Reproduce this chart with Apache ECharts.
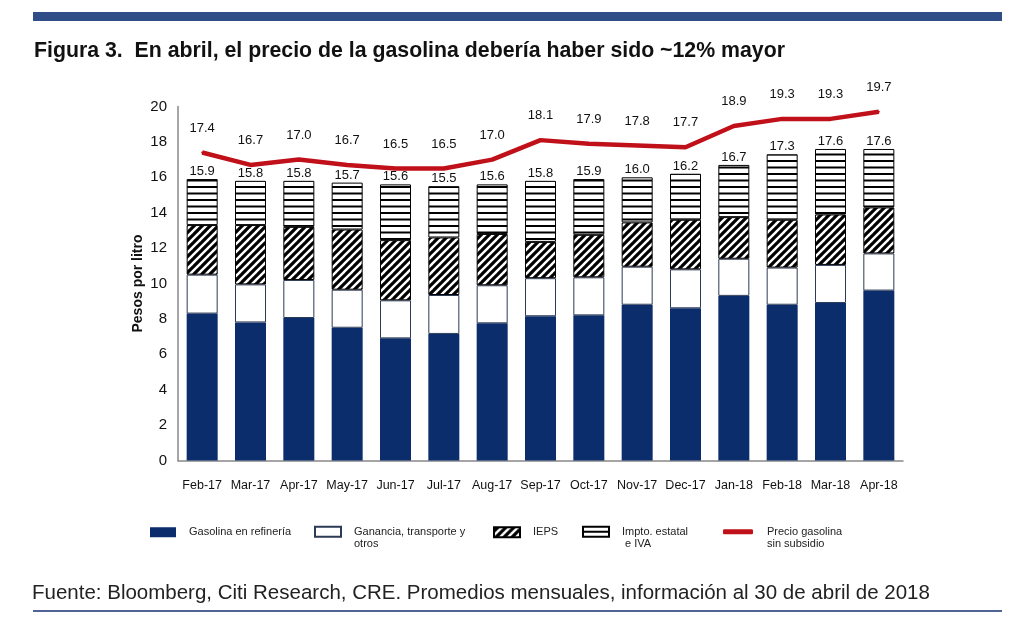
<!DOCTYPE html>
<html><head><meta charset="utf-8">
<script src="https://cdn.jsdelivr.net/npm/echarts@6/dist/echarts.min.js"></script>
<style>html,body{margin:0;padding:0;background:#fff}#c{width:1024px;height:632px}</style>
</head><body><div id="c"></div>
<script>
var categories = ['Feb-17','Mar-17','Apr-17','May-17','Jun-17','Jul-17','Aug-17','Sep-17','Oct-17','Nov-17','Dec-17','Jan-18','Feb-18','Mar-18','Apr-18'];
var gasolinaRefineria = [8.3, 7.8, 8.05, 7.5, 6.9, 7.15, 7.75, 8.15, 8.2, 8.8, 8.6, 9.3, 8.8, 8.9, 9.6];
var ganancia = [2.2, 2.15, 2.15, 2.15, 2.15, 2.2, 2.15, 2.15, 2.15, 2.15, 2.2, 2.1, 2.1, 2.15, 2.1];
var ieps = [2.8, 3.35, 3.0, 3.4, 3.4, 3.25, 2.9, 2.05, 2.4, 2.5, 2.8, 2.35, 2.7, 2.85, 2.6];
var imptoIVA = [2.6, 2.5, 2.6, 2.65, 3.15, 2.9, 2.8, 3.45, 3.15, 2.55, 2.6, 2.95, 3.7, 3.7, 3.3];
var totalLabels = ['15.9','15.8','15.8','15.7','15.6','15.5','15.6','15.8','15.9','16.0','16.2','16.7','17.3','17.6','17.6'];
var precioSinSubsidio = [17.4, 16.7, 17.0, 16.7, 16.5, 16.5, 17.0, 18.1, 17.9, 17.8, 17.7, 18.9, 19.3, 19.3, 19.7];

var SANS = "'Liberation Sans', Arial, sans-serif";

function stripeTile() {
  var c = document.createElement('canvas'); c.width = 8; c.height = 8;
  var g = c.getContext('2d');
  g.fillStyle = '#000'; g.fillRect(0, 0, 8, 8);
  g.strokeStyle = '#fff'; g.lineWidth = 2.4;
  [[-8,8,8,-8],[0,8,8,0],[0,16,16,0]].forEach(function(s){
    g.beginPath(); g.moveTo(s[0], s[1]); g.lineTo(s[2], s[3]); g.stroke();
  });
  return c;
}
function lineTile() {
  var c = document.createElement('canvas'); c.width = 4; c.height = 13;
  var g = c.getContext('2d');
  g.fillStyle = '#fff'; g.fillRect(0, 0, 4, 13);
  g.fillStyle = '#000'; g.fillRect(0, 4, 4, 2); g.fillRect(0, 10.5, 4, 2);
  return c;
}
var stripePattern = { image: stripeTile(), repeat: 'repeat' };
var linePattern = { image: lineTile(), repeat: 'repeat' };

var chart = echarts.init(document.getElementById('c'), null, { renderer: 'canvas' });
function lg(left, top, names, extra, twoLine, gap) {
  return Object.assign({
    left: left, top: top, itemWidth: 26, itemHeight: 10, selectedMode: false, padding: 0, icon: 'rect',
    textStyle: { fontSize: 11, color: '#222', fontFamily: SANS, lineHeight: 12.5,
      padding: [0, 0, 0, gap || 8] },
    formatter: twoLine ? function (n) { return ' \n' + n; } : '{name}',
    data: names
  }, extra || {});
}
var option = {
  backgroundColor: '#fff',
  animation: false,
  title: {
    text: 'Figura 3.  En abril, el precio de la gasolina debería haber sido ~12% mayor',
    left: 34, top: 41, padding: 0,
    textStyle: { fontSize: 21.3, fontWeight: 'bold', color: '#111', fontFamily: SANS }
  },
  graphic: [
    { type: 'rect', shape: { x: 33, y: 12, width: 969, height: 9 }, style: { fill: '#2F4E88' } },
    { type: 'rect', shape: { x: 33, y: 610, width: 969, height: 2 }, style: { fill: '#4F6494' } },
    { type: 'text', left: 32, top: 583, style: { text: 'Fuente: Bloomberg, Citi Research, CRE. Promedios mensuales, información al 30 de abril de 2018', fontSize: 20.5, fill: '#222', fontFamily: SANS } }
  ],
  legend: [
    lg(150, 526, ['Gasolina en refinería']),
    lg(314, 513, ['Ganancia, transporte y\notros'], null, true),
    lg(493, 526, ['IEPS']),
    lg(582, 513, ['Impto. estatal\n e IVA'], null, true),
    lg(723, 513, [{ name: 'Precio gasolina\nsin subsidio', icon: 'roundRect' }], { itemWidth: 30, itemHeight: 5 }, true, 9)
  ],
  grid: { left: 178, right: 121, top: 106.5, bottom: 171.5, containLabel: false },
  xAxis: {
    type: 'category', data: categories,
    axisLine: { lineStyle: { color: '#888', width: 1.5 } },
    axisTick: { show: false },
    axisLabel: { fontSize: 12.5, color: '#111', margin: 19, fontFamily: SANS, interval: 0 }
  },
  yAxis: {
    type: 'value', min: 0, max: 20, interval: 2,
    name: 'Pesos por litro', nameLocation: 'middle', nameGap: 33, nameRotate: 90, nameMoveOverlap: false,
    nameTextStyle: { fontSize: 14, fontWeight: 'bold', color: '#111', fontFamily: SANS },
    axisLine: { show: true, lineStyle: { color: '#888', width: 1.5 } },
    axisTick: { show: false },
    splitLine: { show: false },
    axisLabel: { fontSize: 15, color: '#111', margin: 11, fontFamily: SANS }
  },
  series: [
    { name: 'Gasolina en refinería', type: 'bar', stack: 't', barWidth: 31, data: gasolinaRefineria,
      itemStyle: { color: '#0C2D6C' } },
    { name: 'Ganancia, transporte y\notros', type: 'bar', stack: 't', data: ganancia,
      itemStyle: { color: '#fff', borderColor: '#2B3A55', borderWidth: 1 } },
    { name: 'IEPS', type: 'bar', stack: 't', data: ieps,
      itemStyle: { color: stripePattern, borderColor: '#000', borderWidth: 1 } },
    { name: 'Impto. estatal\n e IVA', type: 'bar', stack: 't', data: imptoIVA,
      itemStyle: { color: linePattern, borderColor: '#000', borderWidth: 1 },
      label: { show: true, position: 'top', distance: 1, fontSize: 13, color: '#111', fontFamily: SANS,
        formatter: function (p) { return totalLabels[p.dataIndex]; } } },
    { name: 'Precio gasolina\nsin subsidio', type: 'line', data: precioSinSubsidio,
      symbol: 'circle', symbolSize: 2, showSymbol: true,
      lineStyle: { color: '#C0101A', width: 4.5 }, itemStyle: { color: '#C0101A' },
      label: { show: true, position: 'top', distance: 17, fontSize: 13, color: '#111', fontFamily: SANS,
        formatter: function (p) { return p.value.toFixed(1); } } }
  ]
};
chart.setOption(option);
</script></body></html>
